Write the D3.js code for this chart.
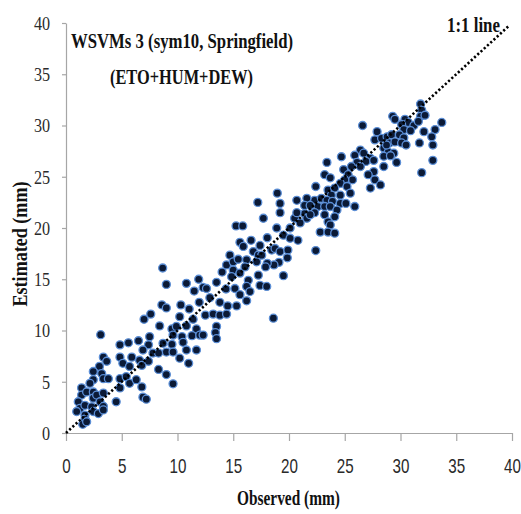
<!DOCTYPE html>
<html><head><meta charset="utf-8">
<script src="https://cdn.jsdelivr.net/npm/d3@7"></script>
<style>body{margin:0;background:#fff}svg{display:block}</style>
</head><body>
<svg id="chart" width="521" height="514"></svg>
<script>
// ---- data ----
const xTicks = [0, 5, 10, 15, 20, 25, 30, 35, 40];
const yTicks = [0, 5, 10, 15, 20, 25, 30, 35, 40];
const titleLines = ["WSVMs 3 (sym10, Springfield)", "(ETO+HUM+DEW)"];
const lineLabel = "1:1 line";
const xLabel = "Observed (mm)";
const yLabel = "Estimated (mm)";
const identityEnd = 39.7;

const observed = [
  3.11,7.5,4.84,5.6,6.5,7.4,6.9,8.7,9.0,3.35,
  3.65,3.0,4.84,5.1,5.7,5.9,6.6,6.8,7.4,7.8,
  8.3,8.3,9.0,2.45,3.2,3.35,3.8,2.45,2.15,4.84,
  5.4,4.84,5.7,6.3,6.8,6.9,7.2,4.5,1.4,1.4,
  1.85,2.45,2.45,2.75,3.35,3.05,3.35,1.1,1.25,0.96,
  1.7,1.7,2.3,2.45,1.7,1.5,1.85,2.9,3.35,9.6,
  8.67,9.0,10.8,11.9,11.5,12.3,12.6,13.5,14.0,14.4,
  14.35,8.6,9.0,10.3,11.05,11.95,12.9,13.8,14.5,7.6,
  7.0,10.2,11.4,12.5,13.2,13.8,8.4,9.5,9.9,10.8,
  11.7,13.5,13.4,9.6,10.4,11.3,12.0,12.3,13.5,9.5,
  10.5,10.8,11.7,9.6,10.2,11.0,
  18.95,19.2,19.2,17.2,20.7,17.7,15.25,15.85,20.5,20.1,
  19.5,18.9,20.8,20.1,18.05,16.6,15.6,17.4,15.9,16.8,
  17.25,18.45,18.75,19.2,19.9,19.85,19.1,18.65,18.05,17.9,
  14.7,15.0,15.45,16.2,17.1,17.55,15.0,15.6,16.05,17.25,
  14.85,16.35,19.5,15.15,16.2,17.4,18.0,16.5,15.6,14.4,
  15.3,16.2,18.6,
  26.6,27.9,27.7,26.4,24.7,25.9,26.7,27.3,26.9,27.6,
  26.1,23.4,25.6,26.4,24.9,27.6,27.1,23.2,23.7,25.3,
  25.7,25.0,27.7,24.6,25.2,27.3,22.4,23.5,24.1,23.8,
  24.6,25.5,22.3,22.9,23.4,23.9,24.6,25.1,25.9,21.6,
  21.4,21.9,22.6,23.2,21.4,22.3,23.7,24.3,23.2,24.1,
  21.6,21.9,23.5,23.7,22.8,23.5,24.1,21.0,20.7,22.4,
  31.8,31.9,31.8,32.2,33.7,29.3,29.5,30.4,30.7,30.1,
  31.2,31.6,30.3,30.9,32.1,33.1,28.3,28.8,29.2,29.9,
  30.3,29.0,29.5,30.1,30.5,32.8,32.9,31.7,28.5,28.9,
  29.4,28.75,28.5,29.65,29.1,32.9,28.5,31.9,28.2
];
const estimated = [
  9.59,9.4,8.6,8.8,9.0,8.6,8.1,8.75,7.9,7.4,
  7.0,6.5,7.4,6.8,6.5,7.4,7.1,6.6,7.0,7.8,
  7.8,6.2,5.7,6.0,5.8,5.3,5.3,5.2,4.85,5.3,
  5.5,4.4,4.85,5.2,4.5,3.5,3.3,3.05,4.4,3.7,
  4.0,4.0,3.4,3.7,3.9,3.05,2.6,3.05,2.4,2.1,
  2.7,1.75,2.55,2.1,1.35,0.85,1.1,1.9,2.25,4.8,
  16.1,14.5,14.6,15.0,13.85,14.2,14.1,14.7,15.7,16.4,
  14.05,12.5,12.2,12.5,12.1,12.75,13.2,12.75,12.4,11.6,
  11.1,11.35,11.1,11.5,11.6,11.5,10.45,10.15,10.4,10.45,
  10.15,10.4,9.8,9.55,9.4,9.5,9.55,9.55,9.2,8.65,
  8.85,8.1,8.1,7.9,7.3,6.8,
  23.4,22.4,21.5,22.5,22.7,20.95,20.2,20.2,20.95,20.0,
  19.3,20.0,18.8,19.0,19.05,18.8,18.6,18.3,18.2,17.7,
  17.35,17.85,18.0,17.7,17.85,17.1,16.65,16.4,16.55,16.2,
  17.35,16.7,16.95,16.9,16.7,17.35,15.9,15.6,16.2,15.4,
  15.25,14.9,15.35,14.1,14.3,14.4,14.3,13.8,13.5,11.6,
  12.4,12.9,11.2,
  30.0,29.4,28.6,27.6,26.95,27.1,27.3,26.8,26.5,26.6,
  26.4,26.4,26.0,26.0,25.7,25.5,25.2,25.2,24.9,25.2,
  24.7,24.7,24.7,24.35,24.05,23.9,24.05,23.7,23.9,23.2,
  23.2,23.4,22.7,22.9,22.7,22.6,22.4,22.4,22.1,22.9,
  22.2,22.2,22.1,22.1,21.4,21.5,22.1,21.75,21.3,21.1,
  20.95,21.3,20.6,20.3,19.6,19.6,19.5,20.5,21.5,17.8,
  32.1,31.5,30.9,31.0,30.3,30.9,30.6,30.6,30.3,30.1,
  30.0,30.4,29.6,29.5,29.4,29.6,28.75,28.9,29.1,29.1,
  28.8,28.3,28.4,28.3,28.1,28.9,28.1,28.3,27.8,27.4,
  27.3,28.1,27.0,26.4,27.05,26.6,26.0,25.4,24.2
];

// ---- chart ----
const svg = d3.select("#chart");
const x = d3.scaleLinear().domain([0, 40]).range([66, 512]);
const y = d3.scaleLinear().domain([0, 40]).range([433, 23]);
const axisColor = "#a6a6a6";

const gx = svg.append("g").attr("transform", "translate(0,433)")
  .call(d3.axisBottom(x).tickValues(xTicks).tickSize(8).tickSizeOuter(0).tickFormat(d3.format("d")));
gx.select(".domain").attr("stroke", axisColor).attr("stroke-width", 1.2);
gx.selectAll(".tick line").attr("stroke", axisColor).attr("stroke-width", 1.2);
gx.selectAll(".tick text")
  .attr("y", 40).attr("dy", 0)
  .attr("transform", "scale(0.76,1)")
  .attr("font-family", "'Liberation Sans', Arial, sans-serif")
  .attr("font-size", 20).attr("fill", "#2a2a2a");

const gy = svg.append("g").attr("transform", "translate(66,0)")
  .call(d3.axisLeft(y).tickValues(yTicks).tickSize(4).tickSizeOuter(0).tickFormat(d3.format("d")));
gy.select(".domain").attr("stroke", axisColor).attr("stroke-width", 1.2);
gy.selectAll(".tick line").attr("stroke", axisColor).attr("stroke-width", 1.2);
gy.selectAll(".tick text")
  .attr("x", -18.8).attr("dy", "0.34em")
  .attr("transform", "scale(0.85,1)")
  .attr("font-family", "'Liberation Serif', 'Times New Roman', serif")
  .attr("font-size", 19).attr("fill", "#2a2a2a");

// points
const pts = observed.map((o, i) => ({ o, e: estimated[i] }));
svg.append("g").selectAll("circle").data(pts).join("circle")
  .attr("cx", d => x(d.o)).attr("cy", d => y(d.e)).attr("r", 4)
  .attr("fill", "#0b1a36").attr("stroke", "#5b8ed6").attr("stroke-width", 1.3);

// 1:1 line
svg.append("line")
  .attr("x1", x(0)).attr("y1", y(0))
  .attr("x2", x(identityEnd)).attr("y2", y(identityEnd))
  .attr("stroke", "#000").attr("stroke-width", 2.6)
  .attr("stroke-dasharray", "2.2,2.2");

const serifBold = "'Liberation Serif', 'Times New Roman', serif";
function label(txt, xp, yp, len, size, anchor) {
  return svg.append("text").attr("x", xp).attr("y", yp)
    .attr("font-family", serifBold).attr("font-weight", "bold")
    .attr("font-size", size).attr("fill", "#111")
    .attr("text-anchor", anchor || "start")
    .attr("textLength", len).attr("lengthAdjust", "spacingAndGlyphs")
    .text(txt);
}
label(titleLines[0], 71, 48, 222, 22);
label(titleLines[1], 110, 84, 143, 22);
label(lineLabel, 447, 32, 53, 22);
label(xLabel, 237, 505, 103, 22);
svg.append("text")
  .attr("transform", "translate(27,244) rotate(-90)")
  .attr("text-anchor", "middle")
  .attr("font-family", serifBold).attr("font-weight", "bold")
  .attr("font-size", 20).attr("fill", "#111")
  .attr("textLength", 125).attr("lengthAdjust", "spacingAndGlyphs")
  .text(yLabel);
</script>
</body></html>
